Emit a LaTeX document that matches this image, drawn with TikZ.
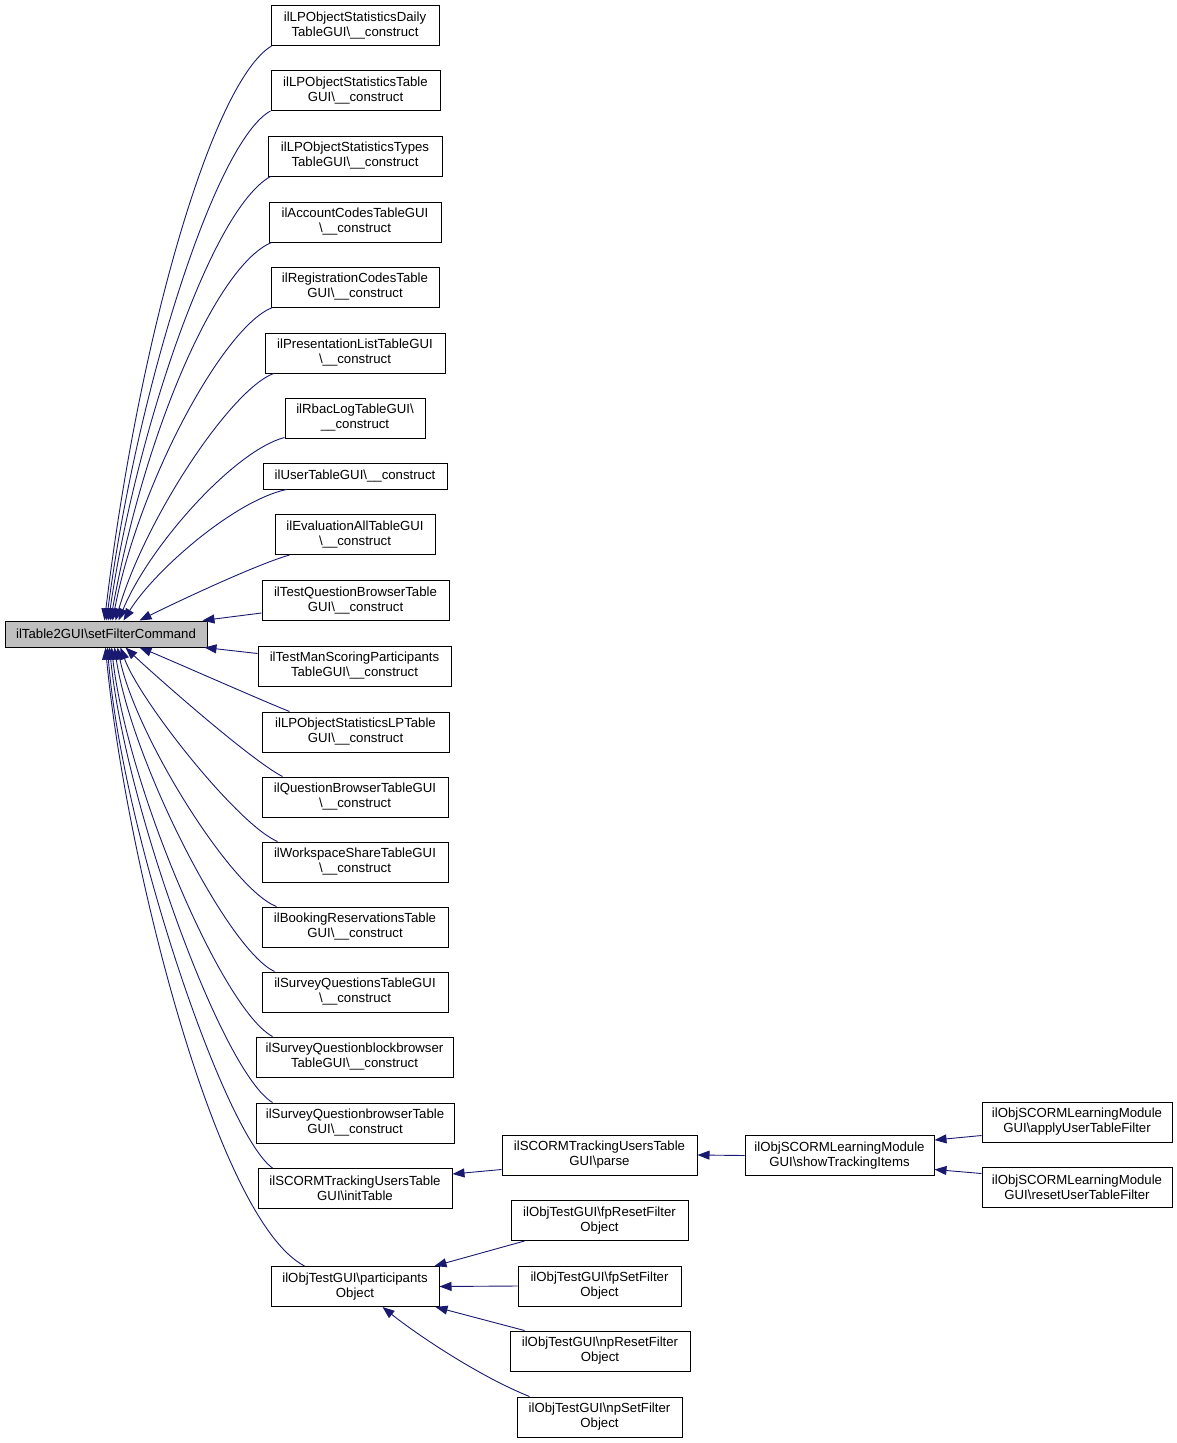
\documentclass[tikz,border=0pt]{standalone}
\usepackage{fontspec}
\setmainfont{Liberation Sans}
\usetikzlibrary{arrows.meta,calc}
\definecolor{edgeblue}{HTML}{191970}
\definecolor{mainfill}{HTML}{BFBFBF}
\newcommand{\dgfont}{\fontsize{13.2pt}{15pt}\selectfont}
\newcommand{\bs}{\textbackslash}
\begin{document}
\begin{tikzpicture}[x=1pt,y=1pt,
  box/.style={draw=black, line width=1pt, fill=white, inner sep=0pt, align=center, font=\dgfont, minimum height=40pt},
  callarrow/.style={draw=edgeblue, line width=0.9pt, -{Triangle[length=12pt,width=9pt]}}]
\useasboundingbox (0,0) rectangle (1177,-1443);
% main node
\node[box, fill=mainfill, minimum width=202pt, minimum height=26pt] (main) at (106,-634) {ilTable2GUI\bs setFilterCommand};
% callers
\node[box, minimum width=168pt] (b1) at (355,-25.5) {ilLPObjectStatisticsDaily\\TableGUI\bs\_\_construct};
\node[box, minimum width=169pt] (b2) at (355.5,-90.5) {ilLPObjectStatisticsTable\\GUI\bs\_\_construct};
\node[box, minimum width=174pt] (b3) at (355,-156) {ilLPObjectStatisticsTypes\\TableGUI\bs\_\_construct};
\node[box, minimum width=172pt] (b4) at (355,-222) {ilAccountCodesTableGUI\\\bs\_\_construct};
\node[box, minimum width=168pt] (b5) at (355,-287) {ilRegistrationCodesTable\\GUI\bs\_\_construct};
\node[box, minimum width=180pt] (b6) at (355,-353) {ilPresentationListTableGUI\\\bs\_\_construct};
\node[box, minimum width=140pt] (b7) at (355,-418) {ilRbacLogTableGUI\bs\\\_\_construct};
\node[box, minimum width=184pt, minimum height=26pt] (b8) at (355,-476) {ilUserTableGUI\bs\_\_construct};
\node[box, minimum width=160pt] (b9) at (355,-534.5) {ilEvaluationAllTableGUI\\\bs\_\_construct};
\node[box, minimum width=187pt] (b10) at (355.5,-600.5) {ilTestQuestionBrowserTable\\GUI\bs\_\_construct};
\node[box, minimum width=193pt] (b11) at (354.5,-666) {ilTestManScoringParticipants\\TableGUI\bs\_\_construct};
\node[box, minimum width=187pt] (b12) at (355.5,-732) {ilLPObjectStatisticsLPTable\\GUI\bs\_\_construct};
\node[box, minimum width=186pt] (b13) at (355,-797) {ilQuestionBrowserTableGUI\\\bs\_\_construct};
\node[box, minimum width=186pt] (b14) at (355,-862) {ilWorkspaceShareTableGUI\\\bs\_\_construct};
\node[box, minimum width=186pt] (b15) at (355,-927) {ilBookingReservationsTable\\GUI\bs\_\_construct};
\node[box, minimum width=186pt] (b16) at (355,-992) {ilSurveyQuestionsTableGUI\\\bs\_\_construct};
\node[box, minimum width=197pt] (b17) at (354.5,-1057) {ilSurveyQuestionblockbrowser\\TableGUI\bs\_\_construct};
\node[box, minimum width=198pt] (b18) at (355,-1123) {ilSurveyQuestionbrowserTable\\GUI\bs\_\_construct};
\node[box, minimum width=194pt] (b19) at (355,-1188.5) {ilSCORMTrackingUsersTable\\GUI\bs initTable};
\node[box, minimum width=168pt] (b20) at (355,-1286.5) {ilObjTestGUI\bs participants\\Object};
% second level
\node[box, minimum width=195pt] (parse) at (599.5,-1155) {ilSCORMTrackingUsersTable\\GUI\bs parse};
\node[box, minimum width=177pt] (fpr) at (599.5,-1220.5) {ilObjTestGUI\bs fpResetFilter\\Object};
\node[box, minimum width=163pt] (fps) at (599.5,-1286) {ilObjTestGUI\bs fpSetFilter\\Object};
\node[box, minimum width=180pt] (npr) at (600,-1351) {ilObjTestGUI\bs npResetFilter\\Object};
\node[box, minimum width=165pt] (nps) at (599.5,-1417) {ilObjTestGUI\bs npSetFilter\\Object};
\node[box, minimum width=189pt] (show) at (839.5,-1155.5) {ilObjSCORMLearningModule\\GUI\bs showTrackingItems};
\node[box, minimum width=190pt] (apply) at (1077,-1122) {ilObjSCORMLearningModule\\GUI\bs applyUserTableFilter};
\node[box, minimum width=190pt] (reset) at (1077,-1187) {ilObjSCORMLearningModule\\GUI\bs resetUserTableFilter};
% edges into main, from above
\draw[callarrow] ($(b1.south west)+(1,0)$) .. controls +(-58,-35) and +(35,290) .. ($(main.north west)+(100,0)$);
\draw[callarrow] ($(b2.south west)+(0,0)$) .. controls +(-55,-30) and +(30,230) .. ($(main.north west)+(102,0)$);
\draw[callarrow] ($(b3.south west)+(3,0)$) .. controls +(-61,-34) and +(26,180) .. ($(main.north west)+(104,0)$);
\draw[callarrow] ($(b4.south west)+(3,0)$) .. controls +(-55,-23) and +(34,189) .. ($(main.north west)+(106,0)$);
\draw[callarrow] ($(b5.south west)+(2,0)$) .. controls +(-48,-18) and +(27,140) .. ($(main.north west)+(108,0)$);
\draw[callarrow] ($(b6.south west)+(9,0)$) .. controls +(-44,-17) and +(29,100) .. ($(main.north west)+(111,0)$);
\draw[callarrow] ($(b7.south west)+(0,1)$) .. controls +(-50,-13) and +(31,75) .. ($(main.north west)+(114,0)$);
\draw[callarrow] ($(b8.south west)+(24,0)$) .. controls +(-52,-11) and +(31,50) .. ($(main.north west)+(119,0)$);
\draw[callarrow] ($(b9.south west)+(15,0)$) .. controls +(-35,-10) and +(30,15) .. ($(main.north west)+(135,0)$);
\draw[callarrow] ($(b10.south west)+(0,8)$) -- ($(main.north west)+(198,0)$);
% edges into main, from below
\draw[callarrow] ($(b11.north west)+(0,-8)$) -- ($(main.south west)+(200,0)$);
\draw[callarrow] ($(b12.north west)+(28,0)$) .. controls +(-30,12) and +(25,-10) .. ($(main.south west)+(135,0)$);
\draw[callarrow] ($(b13.north west)+(21,0)$) .. controls +(-33,17) and +(24,-23) .. ($(main.south west)+(121,0)$);
\draw[callarrow] ($(b14.north west)+(16,0)$) .. controls +(-40,17) and +(19,-53) .. ($(main.south west)+(116,0)$);
\draw[callarrow] ($(b15.north west)+(15,0)$) .. controls +(-45,17) and +(18,-88) .. ($(main.south west)+(113,0)$);
\draw[callarrow] ($(b16.north west)+(13,0)$) .. controls +(-47,22) and +(17,-113) .. ($(main.south west)+(110,0)$);
\draw[callarrow] ($(b17.north west)+(17,0)$) .. controls +(-50,27) and +(16,-140) .. ($(main.south west)+(107,0)$);
\draw[callarrow] ($(b18.north west)+(17,0)$) .. controls +(-50,30) and +(16,-160) .. ($(main.south west)+(105,0)$);
\draw[callarrow] ($(b19.north west)+(15,0)$) .. controls +(-48,34) and +(14,-183) .. ($(main.south west)+(103,0)$);
\draw[callarrow] ($(b20.north west)+(34,0)$) .. controls +(-90,47) and +(19,-203) .. ($(main.south west)+(101,0)$);
% second level edges
\draw[callarrow] ($(parse.south west)+(0,6)$) -- ($(b19.north east)+(0,-6)$);
\draw[callarrow] (show.west) -- (parse.east);
\draw[callarrow] ($(apply.south west)+(0,7)$) -- ($(show.north east)+(0,-5)$);
\draw[callarrow] ($(reset.north west)+(0,-7)$) -- ($(show.south east)+(0,6.5)$);
\draw[callarrow] ($(fpr.south west)+(14,0)$) -- ($(b20.north east)+(-5,0)$);
\draw[callarrow] (fps.west) -- (b20.east);
\draw[callarrow] ($(npr.north west)+(15,0)$) -- ($(b20.south east)+(-4,0)$);
\draw[callarrow] ($(nps.north west)+(13,0)$) .. controls +(-50,20) and +(35,-28) .. ($(b20.south west)+(112,0)$);
\end{tikzpicture}
\end{document}
